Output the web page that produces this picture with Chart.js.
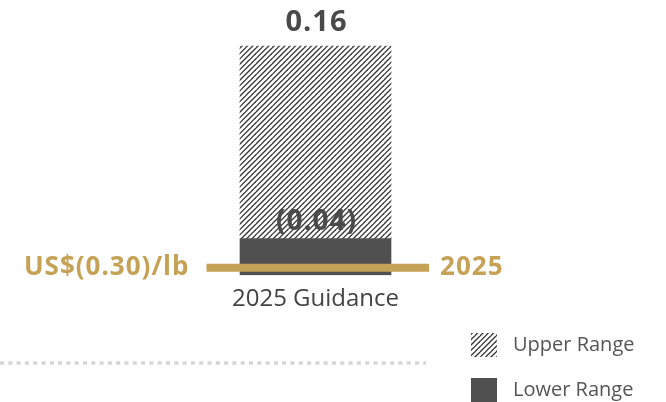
<!DOCTYPE html>
<html>
<head>
<meta charset="utf-8">
<script src="https://cdn.jsdelivr.net/npm/chart.js@4/dist/chart.umd.min.js"></script>
<style>
  html, body { margin: 0; padding: 0; background: #ffffff; overflow: hidden; }
  canvas { display: block; }
</style>
</head>
<body>
<canvas id="chart" width="666" height="402"></canvas>
<script>
// Guidance range (US$/lb)
const categories = ['2025 Guidance'];
const lowerRange = [-0.04];
const upperRange = [0.16];
const seriesNames = ['Upper Range', 'Lower Range'];

// Reference level shown across the bar
const referenceValue = -0.30;
const referenceYear = '2025';

// Bottom of the value axis (the lower-range bar rests on it)
const axisFloor = -0.078;
const axisCeiling = 0.208;

const GOLD = '#c5a255';
const DARK = '#505050';
const TEXT_DARK = '#4a4a4a';
const FONT = "'Open Sans', 'DejaVu Sans', sans-serif";

function fmt(v) {
  return v < 0 ? '(' + Math.abs(v).toFixed(2) + ')' : v.toFixed(2);
}

// Diagonal hatch fill
function makeHatchPattern() {
  const s = 16;
  const c = document.createElement('canvas');
  c.width = s; c.height = s;
  const g = c.getContext('2d');
  g.strokeStyle = '#383838';
  g.lineWidth = 1.35;
  const step = s / 3;
  for (let k = -2; k <= 8; k++) {
    const d = k * step;           // line: x + y = d
    g.beginPath();
    g.moveTo(d + s, -s);
    g.lineTo(d - s, s);
    g.stroke();
  }
  return document.getElementById('chart').getContext('2d').createPattern(c, 'repeat');
}

const hatch = makeHatchPattern();

// Extra drawing: value labels, reference labels, divider and legend
const decorations = {
  id: 'decorations',
  afterDatasetsDraw(chart) {
    const ctx = chart.ctx;
    ctx.save();

    // dotted divider
    ctx.strokeStyle = '#d6d6d6';
    ctx.lineWidth = 3.5;
    ctx.setLineDash([4, 4.3]);
    ctx.beginPath();
    ctx.moveTo(0, 363);
    ctx.lineTo(426, 363);
    ctx.stroke();
    ctx.setLineDash([]);

    // value labels
    const upperBar = chart.getDatasetMeta(0).data[0];
    const lowerBar = chart.getDatasetMeta(1).data[0];
    const upperTop = Math.min(upperBar.y, upperBar.base);
    const lowerTop = Math.min(lowerBar.y, lowerBar.base);
    ctx.fillStyle = TEXT_DARK;
    ctx.textAlign = 'center';
    ctx.textBaseline = 'alphabetic';
    ctx.font = 'bold 29px ' + FONT;
    ctx.letterSpacing = '1px';
    ctx.fillText(fmt(upperRange[0]), upperBar.x + 1, upperTop - 15);
    ctx.font = 'bold 28px ' + FONT;
    ctx.fillText(fmt(lowerRange[0]), lowerBar.x + 1, lowerTop - 9);

    // reference labels at both ends of the gold line
    const refPts = chart.getDatasetMeta(2).data;
    const left = refPts[0], right = refPts[refPts.length - 1];
    ctx.fillStyle = GOLD;
    ctx.font = 'bold 26px ' + FONT;
    ctx.textBaseline = 'middle';
    ctx.textAlign = 'right';
    ctx.fillText('US$' + fmt(referenceValue) + '/lb', left.x - 17, left.y);
    ctx.textAlign = 'left';
    ctx.fillText(referenceYear, right.x + 11, right.y);
    ctx.letterSpacing = '0px';

    // legend
    const items = [0, 1].map(i => chart.data.datasets[i]);
    items.forEach((ds, i) => {
      const y = 333 + i * 45;
      ctx.fillStyle = ds.backgroundColor;
      ctx.fillRect(471, y, 26, 24);
      ctx.fillStyle = '#555555';
      ctx.font = '20px ' + FONT;
      ctx.textAlign = 'left';
      ctx.textBaseline = 'middle';
      ctx.fillText(ds.label, 513, y + 12);
    });

    ctx.restore();
  }
};

new Chart(document.getElementById('chart'), {
  type: 'bar',
  data: {
    labels: categories,
    datasets: [
      {
        label: seriesNames[0],
        data: categories.map((c, i) => [lowerRange[i], upperRange[i]]),
        backgroundColor: hatch,
        borderWidth: 0,
        barThickness: 151,
        grouped: false,
        order: 2
      },
      {
        label: seriesNames[1],
        data: categories.map((c, i) => [axisFloor, lowerRange[i]]),
        backgroundColor: DARK,
        borderWidth: 0,
        barThickness: 151,
        grouped: false,
        order: 1
      },
      {
        type: 'line',
        label: 'Reference',
        xAxisID: 'xRef',
        yAxisID: 'yRef',
        data: [{ x: -0.19, y: referenceValue }, { x: 0.198, y: referenceValue }],
        borderColor: GOLD,
        borderWidth: 8,
        borderCapStyle: 'butt',
        pointRadius: 0,
        fill: false,
        order: 0
      }
    ]
  },
  options: {
    responsive: false,
    devicePixelRatio: 1,
    animation: false,
    layout: { padding: { left: 0, right: 35, top: 0, bottom: 78 } },
    plugins: {
      legend: { display: false },
      tooltip: { enabled: false }
    },
    scales: {
      x: {
        type: 'category',
        grid: { display: false, drawTicks: false },
        border: { display: false },
        ticks: { color: '#444444', font: { family: FONT, size: 24 }, padding: 10 }
      },
      y: { display: false, min: axisFloor, max: axisCeiling },
      xRef: { type: 'linear', display: false, min: -0.5, max: 0.5 },
      yRef: { type: 'linear', display: false, min: -0.32, max: 0.43 }
    }
  },
  plugins: [decorations]
});
</script>
</body>
</html>
